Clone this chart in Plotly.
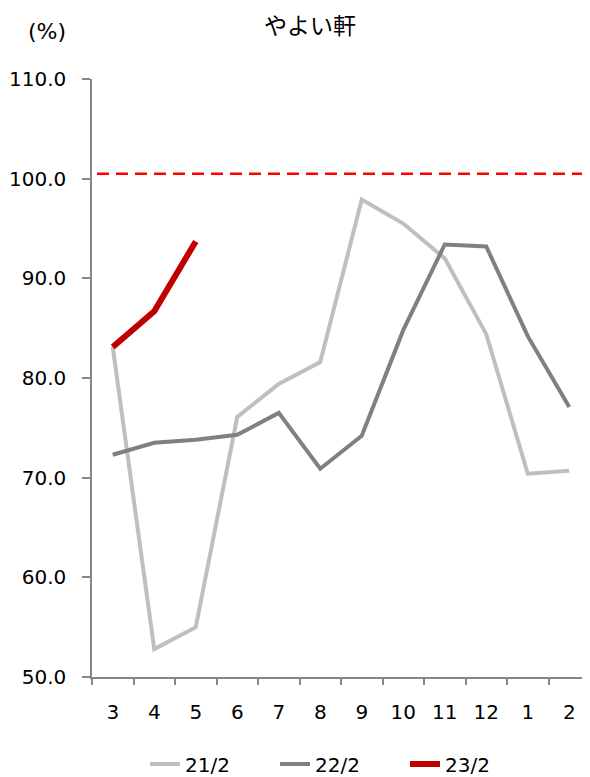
import plotly.graph_objects as go

months = ["3", "4", "5", "6", "7", "8", "9", "10", "11", "12", "1", "2"]
s21 = [83.1, 52.8, 55.0, 76.1, 79.4, 81.6, 97.9, 95.5, 92.0, 84.4, 70.4, 70.7]
s22 = [72.3, 73.5, 73.8, 74.3, 76.5, 70.9, 74.2, 84.8, 93.4, 93.2, 84.2, 77.1]
s23 = [83.1, 86.7, 93.7]
ref_level = 100.5
y_ticks = [50, 60, 70, 80, 90, 100, 110]

FONT = "DejaVu Sans"
W, H = 582, 769  # page has an 8px body margin

fig = go.Figure()
fig.add_trace(go.Scatter(x=months, y=s21, name="21/2", mode="lines",
                         line=dict(color="#BFBFBF", width=4)))
fig.add_trace(go.Scatter(x=months, y=s22, name="22/2", mode="lines",
                         line=dict(color="#808080", width=4)))
fig.add_trace(go.Scatter(x=months[:len(s23)], y=s23, name="23/2", mode="lines",
                         line=dict(color="#C00000", width=6)))

fig.add_shape(type="line", xref="paper", yref="y", x0=0.01, x1=1, y0=ref_level, y1=ref_level,
              line=dict(color="#FF0000", width=2.5, dash="12px,7px"), layer="below")

fig.update_layout(
    width=W, height=H,
    margin=dict(l=84, r=0, t=71, b=100),
    paper_bgcolor="white", plot_bgcolor="white",
    font=dict(family=FONT, size=20, color="#000000"),
    title=dict(text="やよい軒", x=302/W, xanchor="center", y=1-18/H, yanchor="middle",
               font=dict(family="Noto Sans CJK JP", size=23, color="#000000")),
    showlegend=True,
    legend=dict(orientation="h", x=137/W, xanchor="left", xref="container",
                y=1-756/H, yref="container", yanchor="middle",
                entrywidth=85, font=dict(size=20), itemwidth=30),
    annotations=[dict(text="(%)", xref="paper", yref="paper", x=-45/498, y=1+48/598,
                      xanchor="center", yanchor="middle", showarrow=False,
                      font=dict(size=22))],
)
fig.update_xaxes(
    type="category", range=[-0.5, 11.5], tickson="boundaries",
    showline=True, linecolor="#868686", linewidth=1.5,
    ticks="outside", ticklen=6, tickcolor="#868686", tickwidth=1.5,
    showgrid=False, zeroline=False, ticklabelstandoff=16,
)
fig.update_yaxes(
    range=[50, 110], tickvals=y_ticks, ticktext=[f"{v:.1f}" for v in y_ticks],
    showline=True, linecolor="#868686", linewidth=1.5,
    ticks="outside", ticklen=8, tickcolor="#868686", tickwidth=1.5,
    showgrid=False, zeroline=False, ticklabelstandoff=12,
)
fig.write_html("out.html")
